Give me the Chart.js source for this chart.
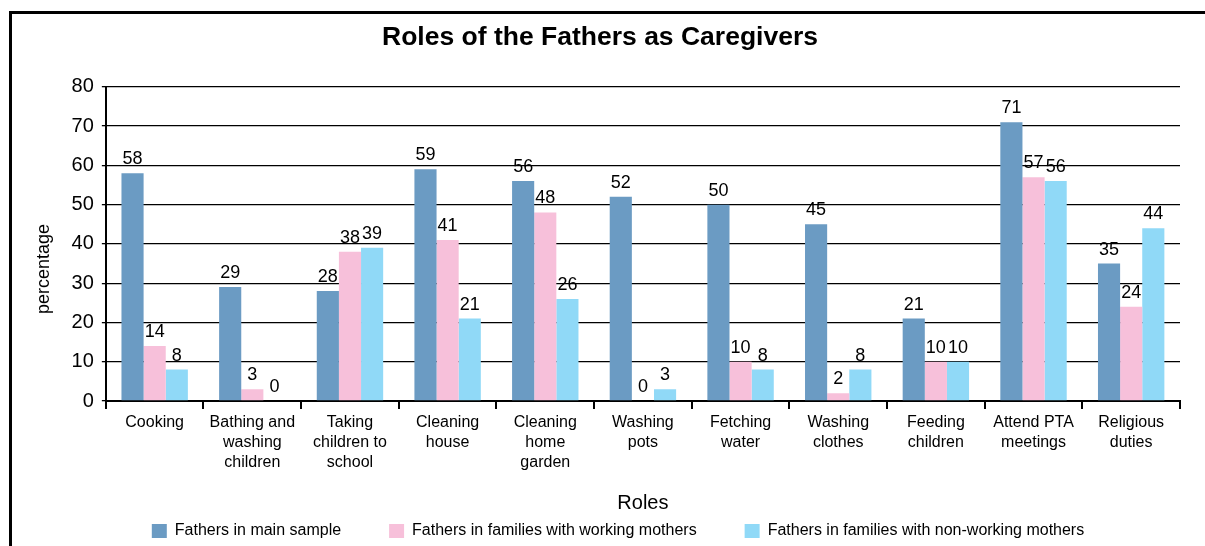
<!DOCTYPE html>
<html>
<head>
<meta charset="utf-8">
<script src="https://cdn.jsdelivr.net/npm/chart.js@4.4.1/dist/chart.umd.min.js"></script>
<style>
  body { margin: 0; background: #fff; }
  #frame { position: absolute; left: 9px; top: 11px; width: 1220px; height: 560px; border: 3px solid #000; box-sizing: border-box; }
  #wrap { position: absolute; left: 0; top: 0; width: 1205px; height: 546px; }
</style>
</head>
<body>
<div id="frame"></div>
<div id="wrap"><canvas id="chart"></canvas></div>
<script>
const roles = [
    'Cooking',
    ['Bathing and', 'washing', 'children'],
    ['Taking', 'children to', 'school'],
    ['Cleaning', 'house'],
    ['Cleaning', 'home', 'garden'],
    ['Washing', 'pots'],
    ['Fetching', 'water'],
    ['Washing', 'clothes'],
    ['Feeding', 'children'],
    ['Attend PTA', 'meetings'],
    ['Religious', 'duties']
];
const mainSample = [58, 29, 28, 59, 56, 52, 50, 45, 21, 71, 35];
const workingMothers = [14, 3, 38, 41, 48, 0, 10, 2, 10, 57, 24];
const nonWorkingMothers = [8, 0, 39, 21, 26, 3, 8, 8, 10, 56, 44];
const yTicks = [0, 10, 20, 30, 40, 50, 60, 70, 80];

const FONT = "'Liberation Sans', Arial, Helvetica, sans-serif";

// value labels above each bar
const valueLabels = {
    id: 'valueLabels',
    afterDatasetsDraw(chart) {
        const ctx = chart.ctx;
        ctx.save();
        ctx.font = '18px ' + FONT;
        ctx.fillStyle = '#000';
        ctx.textAlign = 'center';
        ctx.textBaseline = 'alphabetic';
        chart.data.datasets.forEach((ds, i) => {
            chart.getDatasetMeta(i).data.forEach((bar, j) => {
                ctx.fillText(String(ds.data[j]), bar.x, bar.y - 9);
            });
        });
        ctx.restore();
    }
};

// nudge the legend a little right / down, like the original
const legendNudge = {
    id: 'legendNudge',
    afterLayout(chart) {
        const lg = chart.legend;
        lg.left += 18; lg.right += 18;
        lg.top += 3; lg.bottom += 3;
    }
};

new Chart(document.getElementById('chart'), {
    type: 'bar',
    data: {
        labels: roles,
        datasets: [
            { label: 'Fathers in main sample', data: mainSample, backgroundColor: '#6b9bc3' },
            { label: 'Fathers in families with working mothers', data: workingMothers, backgroundColor: '#f7c0da' },
            { label: 'Fathers in families with non-working mothers', data: nonWorkingMothers, backgroundColor: '#90d9f7' }
        ]
    },
    options: {
        responsive: true,
        maintainAspectRatio: false,
        animation: false,
        datasets: { bar: { barPercentage: 1, categoryPercentage: 0.68 } },
        layout: { padding: { top: 22, right: 25, bottom: 0, left: 20 } },
        plugins: {
            title: {
                display: true,
                text: 'Roles of the Fathers as Caregivers',
                color: '#000',
                font: { family: FONT, size: 26.5, weight: 'bold' },
                padding: { top: 0, bottom: 33 }
            },
            legend: {
                position: 'bottom',
                labels: {
                    color: '#000',
                    font: { family: FONT, size: 16 },
                    boxWidth: 15,
                    boxHeight: 14,
                    padding: 48
                }
            },
            tooltip: { enabled: false }
        },
        scales: {
            x: {
                grid: { drawOnChartArea: false, drawTicks: true, tickLength: 8, color: '#000', lineWidth: 2, offset: true },
                border: { color: '#000', width: 2 },
                ticks: { color: '#000', font: { family: FONT, size: 16, lineHeight: 1.25 }, maxRotation: 0, autoSkip: false, padding: 4 },
                title: { display: true, text: 'Roles', color: '#000', font: { family: FONT, size: 20 }, padding: { top: 14, bottom: -43 } }
            },
            y: {
                min: 0,
                max: 80,
                afterBuildTicks: axis => { axis.ticks = yTicks.map(v => ({ value: v })); },
                grid: { color: '#000', lineWidth: 1.3, tickLength: 4 },
                border: { color: '#000', width: 2 },
                ticks: { color: '#000', font: { family: FONT, size: 20 }, padding: 8 },
                title: { display: true, text: 'percentage          ', color: '#000', font: { family: FONT, size: 18 }, padding: { top: 13, bottom: 9 } }
            }
        }
    },
    plugins: [valueLabels, legendNudge]
});
</script>
</body>
</html>
